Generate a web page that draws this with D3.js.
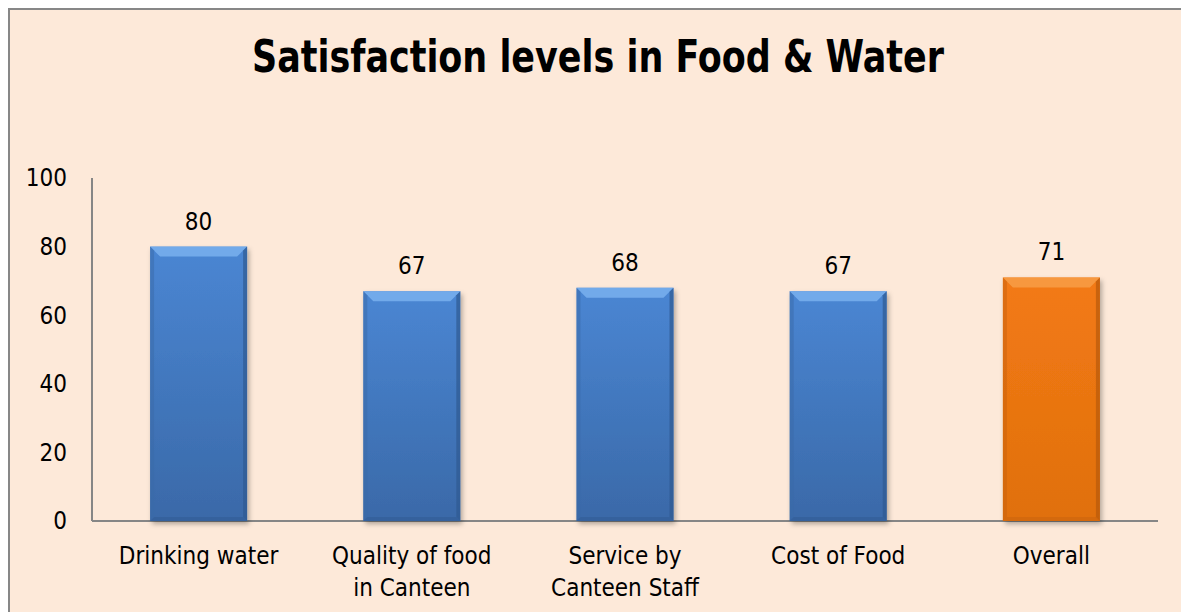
<!DOCTYPE html>
<meta charset="utf-8">
<style>
    body { margin: 0; background: #fff; }
    svg text { font-family: "Liberation Sans Narrow", "DejaVu Sans Condensed", sans-serif; fill: #000; }
    .title { font-weight: bold; }
</style>

<svg width="1181" height="612"></svg>

<script src="https://cdn.jsdelivr.net/npm/d3@7/dist/d3.min.js"></script>

<script>
    var categories = ["Drinking water", "Quality of food\nin Canteen", "Service by\nCanteen Staff", "Cost of Food", "Overall"],
        values = [80, 67, 68, 67, 71],
        yTicks = [0, 20, 40, 60, 80, 100];

    (function () {
        var svg = d3.select("svg"),
            left = 92, right = 1158, bottom = 521, top = 178;

        // background box (right and bottom edges run off the picture)
        svg.append("rect").attr("x", 9).attr("y", 9).attr("width", 1185).attr("height", 620)
            .attr("fill", "#fde9d9").attr("stroke", "#878787").attr("stroke-width", 2);

        var defs = svg.append("defs");
        function grad(id, c1, c2) {
            var g = defs.append("linearGradient").attr("id", id).attr("x1", 0).attr("y1", 0).attr("x2", 0).attr("y2", 1);
            g.append("stop").attr("offset", "0%").attr("stop-color", c1);
            g.append("stop").attr("offset", "100%").attr("stop-color", c2);
        }
        grad("blue", "#4a86d3", "#3a69a8");
        grad("orange", "#f37a14", "#e0700e");
        var sh = defs.append("filter").attr("id", "shadow").attr("x", "-20%").attr("y", "-20%").attr("width", "140%").attr("height", "140%");
        sh.append("feDropShadow").attr("dx", 2).attr("dy", 3).attr("stdDeviation", 2.5).attr("flood-color", "#000").attr("flood-opacity", 0.3);

        var x = d3.scaleBand().domain(categories).range([left, right]).paddingInner(0.545).paddingOuter(0.2725),
            y = d3.scaleLinear().domain([0, 100]).range([bottom, top]);

        svg.append("text").attr("class", "title").attr("x", 598).attr("y", 72)
            .attr("text-anchor", "middle").attr("font-size", 44)
            .attr("textLength", 692).attr("lengthAdjust", "spacingAndGlyphs")
            .text("Satisfaction levels in Food & Water");

        // axes lines
        svg.append("line").attr("x1", left).attr("x2", left).attr("y1", y(100)).attr("y2", bottom)
            .attr("stroke", "#868686").attr("stroke-width", 2);
        svg.append("line").attr("x1", left).attr("x2", right).attr("y1", bottom).attr("y2", bottom)
            .attr("stroke", "#868686").attr("stroke-width", 2);

        svg.selectAll(".ytick").data(yTicks).enter().append("text")
            .attr("x", 67).attr("y", function (d) { return y(d); })
            .attr("dy", "0.35em").attr("text-anchor", "end").attr("font-size", 24)
            .text(function (d) { return d; });

        var bars = svg.selectAll(".bar").data(values).enter().append("g")
            .attr("transform", function (d, i) { return "translate(" + [x(categories[i]), y(d)] + ")"; });

        bars.each(function (d, i) {
            var g = d3.select(this),
                w = x.bandwidth(),
                h = bottom - y(d),
                orange = i === categories.length - 1,
                b = 10;
            g.append("rect").attr("width", w).attr("height", h)
                .attr("fill", orange ? "url(#orange)" : "url(#blue)").attr("filter", "url(#shadow)");
            // top bevel
            g.append("path").attr("d", "M0,0H" + w + "L" + (w - b) + "," + b + "H" + b + "Z")
                .attr("fill", orange ? "#f8a04a" : "#7db3f0").attr("opacity", 0.8);
            // side edges
            g.append("path").attr("d", "M" + w + ",0L" + (w - 4) + ",4V" + (h - 4) + "L" + w + "," + h + "Z")
                .attr("fill", orange ? "#b85a0c" : "#2f5a91").attr("opacity", 0.7);
            g.append("path").attr("d", "M0,0L4,4V" + (h - 4) + "L0," + h + "Z")
                .attr("fill", orange ? "#c8620e" : "#3a6aa8").attr("opacity", 0.5);
            g.append("path").attr("d", "M0," + h + "L4," + (h - 4) + "H" + (w - 4) + "L" + w + "," + h + "Z")
                .attr("fill", orange ? "#c8620e" : "#2f5a91").attr("opacity", 0.5);
        });

        svg.selectAll(".val").data(values).enter().append("text")
            .attr("x", function (d, i) { return x(categories[i]) + x.bandwidth() / 2; })
            .attr("y", function (d) { return y(d) - 17; })
            .attr("text-anchor", "middle").attr("font-size", 24)
            .text(function (d) { return d; });

        svg.selectAll(".cat").data(categories).enter().append("text")
            .attr("x", function (d) { return x(d) + x.bandwidth() / 2; })
            .attr("y", 564).attr("text-anchor", "middle").attr("font-size", 24)
            .each(function (d) {
                var t = d3.select(this);
                d.split("\n").forEach(function (s, k) {
                    t.append("tspan").attr("x", t.attr("x")).attr("dy", k ? 32 : 0).text(s);
                });
            });
    })();
</script>
